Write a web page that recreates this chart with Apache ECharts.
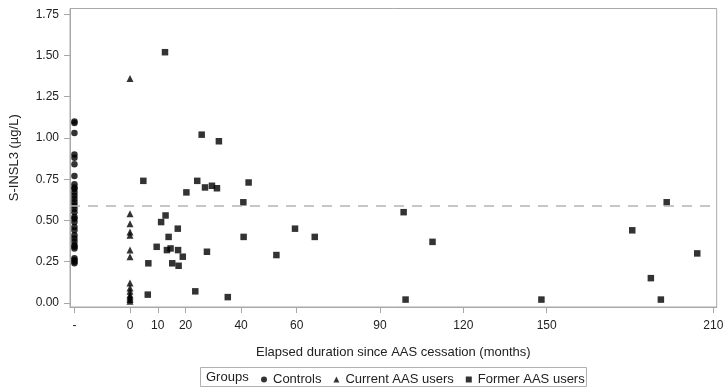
<!DOCTYPE html>
<html>
<head>
<meta charset="utf-8">
<script src="https://cdn.jsdelivr.net/npm/echarts@6/dist/echarts.min.js"></script>
<style>html,body{margin:0;padding:0;background:#fff}#c{width:727px;height:391px}</style>
</head>
<body>
<div id="c"></div>
<script>
// Controls plotted at the "-" position (x = -20)
const controlsX = -20;
const controlsY = [1.10,1.09,1.03,0.90,0.88,0.84,0.77,0.72,0.70,0.69,0.67,0.65,0.63,0.61,0.59,0.57,0.55,0.52,0.51,0.49,0.46,0.44,0.41,0.39,0.37,0.35,0.34,0.33,0.27,0.26,0.25,0.24];
// Current AAS users at 0 months
const currentX = 0;
const currentY = [1.36,0.54,0.48,0.43,0.41,0.32,0.28,0.12,0.09,0.07,0.05,0.04,0.03,0.02,0.01];
// Former AAS users
const formerX = [4.8,9.6,6.6,6.4,12.6,25.8,32.0,24.2,27.0,29.5,31.3,42.7,20.3,40.8,12.8,11.2,17.2,59.4,66.5,13.9,40.9,13.3,14.6,17.3,19.0,27.7,52.7,15.2,17.5,23.5,35.2,98.5,99.2,108.9,148.1,180.8,187.5,191.1,193.2,204.2];
const formerY = [0.74,0.34,0.24,0.05,1.52,1.02,0.98,0.74,0.70,0.71,0.695,0.73,0.67,0.61,0.53,0.49,0.45,0.45,0.40,0.40,0.40,0.32,0.33,0.32,0.28,0.31,0.29,0.24,0.225,0.07,0.035,0.55,0.02,0.37,0.02,0.44,0.15,0.02,0.61,0.30];
const refLine = 0.59;
const xTicks = [-20,0,10,20,40,60,90,120,150,210];
const xTickLabels = ['-','0','10','20','40','60','90','120','150','210'];
const yTicks = [0,0.25,0.5,0.75,1.0,1.25,1.5,1.75];

const chart = echarts.init(document.getElementById('c'), null, {renderer:'canvas'});
const font = 'Liberation Sans, Arial, sans-serif';
const axisGray = '#a8a8a8';
chart.setOption({
  animation:false,
  backgroundColor:'#fff',
  textStyle:{fontFamily:font},
  grid:{left:70, right:10.3, top:8.5, bottom:84, show:true, borderColor:axisGray, borderWidth:1},
  xAxis:{
    type:'value', min:-21.6, max:211.2,
    name:'Elapsed duration since AAS cessation (months)',
    nameLocation:'middle', nameGap:39,
    nameTextStyle:{fontSize:13, color:'#222', fontFamily:font},
    axisLine:{show:true, onZero:false, lineStyle:{color:axisGray}},
    axisTick:{show:true, length:6, customValues:xTicks, lineStyle:{color:axisGray}},
    axisLabel:{customValues:xTicks, fontSize:12, color:'#222', margin:13, fontFamily:font,
      formatter:function(v){const i=xTicks.indexOf(v);return i>=0?xTickLabels[i]:'';}},
    splitLine:{show:false}
  },
  yAxis:{
    type:'value', min:-0.025, max:1.785,
    name:'S-INSL3 (µg/L)', nameLocation:'middle', nameGap:49, nameRotate:90,
    nameTextStyle:{fontSize:13, color:'#222', fontFamily:font},
    axisLine:{show:true, onZero:false, lineStyle:{color:axisGray}},
    axisTick:{show:true, length:6, customValues:yTicks, lineStyle:{color:axisGray}},
    axisLabel:{customValues:yTicks, fontSize:12, color:'#222', margin:11, fontFamily:font,
      formatter:function(v){return v.toFixed(2);}},
    splitLine:{show:false}
  },
  legend:{
    left:256, top:368, itemWidth:6, itemHeight:6, itemGap:12,
    textStyle:{fontSize:13, color:'#222', fontFamily:font, padding:[0,0,0,1]},
    data:[
      {name:'Controls', icon:'circle'},
      {name:'Current AAS users', icon:'triangle'},
      {name:'Former AAS users', icon:'rect'}
    ]
  },
  graphic:[
    {type:'rect', shape:{x:200.5, y:367.5, width:386, height:19}, style:{fill:'none', stroke:'#b0b0b0', lineWidth:1}, z:-1},
    {type:'text', x:206, y:377, style:{text:'Groups', font:'13px '+font, fill:'#222', textVerticalAlign:'middle'}}
  ],
  series:[
    {name:'Controls', type:'scatter', symbol:'circle', symbolSize:6.5,
      itemStyle:{color:'#000'},
      data:controlsY.map(y=>[controlsX,y]),
      markLine:{silent:true, symbol:'none', label:{show:false},
        lineStyle:{color:'#b4b4b4', width:1.5, type:[10,8]},
        data:[{yAxis:refLine}]}
    },
    {name:'Current AAS users', type:'scatter', symbol:'triangle', symbolSize:7,
      itemStyle:{color:'#000'},
      data:currentY.map(y=>[currentX,y])},
    {name:'Former AAS users', type:'scatter', symbol:'rect', symbolSize:6.5,
      itemStyle:{color:'#000'},
      data:formerX.map((x,i)=>[x,formerY[i]])}
  ]
});
</script>
</body>
</html>
